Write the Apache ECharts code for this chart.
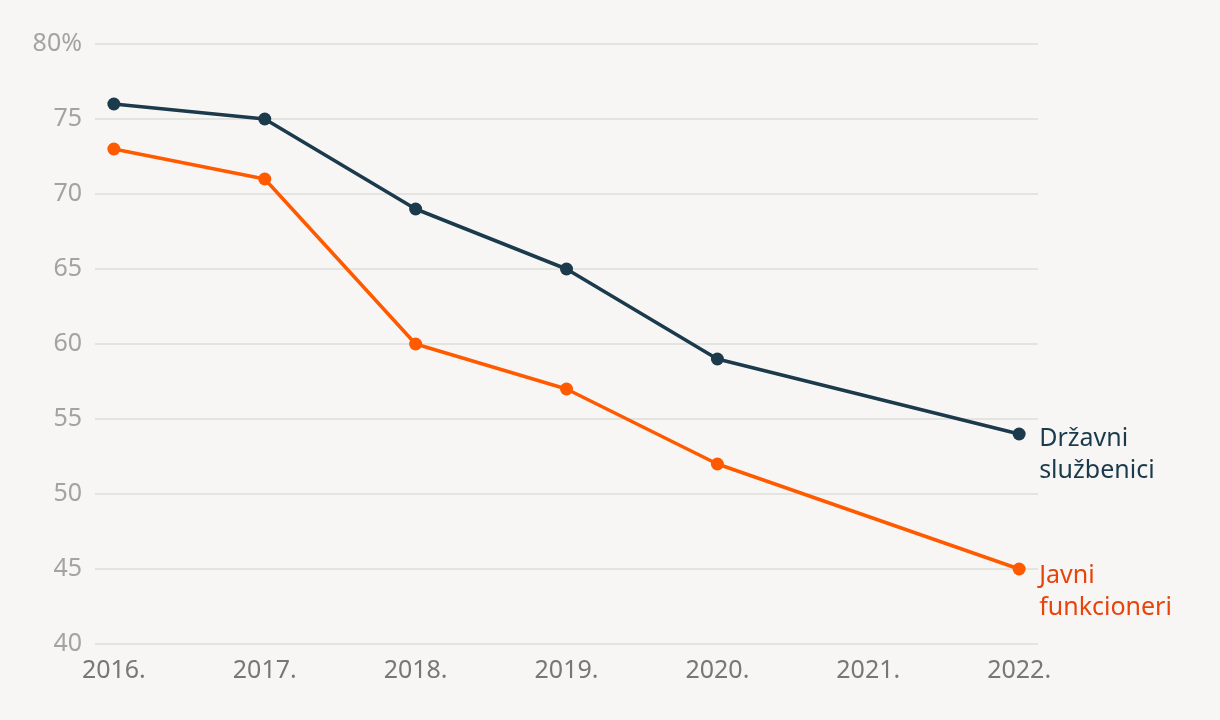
<!DOCTYPE html>
<html><head><meta charset="utf-8">
<script src="https://cdn.jsdelivr.net/npm/echarts@6/dist/echarts.min.js"></script>
<style>html,body{margin:0;padding:0;background:#f7f6f4;}#c{width:1220px;height:720px;}</style>
</head><body><div id="c"></div>
<script>
const years = [2016, 2017, 2018, 2019, 2020, 2021, 2022];
const drzavniYears = [2016, 2017, 2018, 2019, 2020, 2022];
const drzavni = [76, 75, 69, 65, 59, 54];
const javniYears = [2016, 2017, 2018, 2019, 2020, 2022];
const javni = [73, 71, 60, 57, 52, 45];
const seriesNames = ['Državni\nslužbenici', 'Javni\nfunkcioneri'];

const font = 'Noto Sans';
const chart = echarts.init(document.getElementById('c'));
chart.setOption({
  backgroundColor: '#f7f6f4',
  animation: false,
  grid: {left: 95, right: 182, top: 44, bottom: 76},
  xAxis: {
    type: 'value', min: 2015.875, max: 2022.125,
    axisLine: {show: false}, axisTick: {show: false}, splitLine: {show: false},
    axisLabel: {customValues: years, formatter: v => v + '.', color: '#777', fontSize: 25, fontFamily: font, margin: 14}
  },
  yAxis: {
    type: 'value', min: 40, max: 80, interval: 5,
    axisLine: {show: false}, axisTick: {show: false},
    splitLine: {lineStyle: {color: '#dddcda', width: 1.5}},
    axisLabel: {formatter: v => v === 80 ? v + '%' : v, color: '#a3a3a3', fontSize: 25, fontFamily: font, margin: 13}
  },
  series: [
    {name: seriesNames[0], type: 'line', data: drzavniYears.map((y, i) => [y, drzavni[i]]),
     color: '#1b3a4b', lineStyle: {width: 3.5}, symbol: 'circle', symbolSize: 13,
     endLabel: {show: true, formatter: seriesNames[0], color: '#1b3a4b', fontSize: 25, fontFamily: font, lineHeight: 32,
       align: 'left', verticalAlign: 'top', offset: [12, -11]}},
    {name: seriesNames[1], type: 'line', data: javniYears.map((y, i) => [y, javni[i]]),
     color: '#ff5a00', lineStyle: {width: 3.5}, symbol: 'circle', symbolSize: 13,
     endLabel: {show: true, formatter: seriesNames[1], color: '#e8440a', fontSize: 25, fontFamily: font, lineHeight: 32,
       align: 'left', verticalAlign: 'top', offset: [12, -9]}}
  ]
});
</script></body></html>
